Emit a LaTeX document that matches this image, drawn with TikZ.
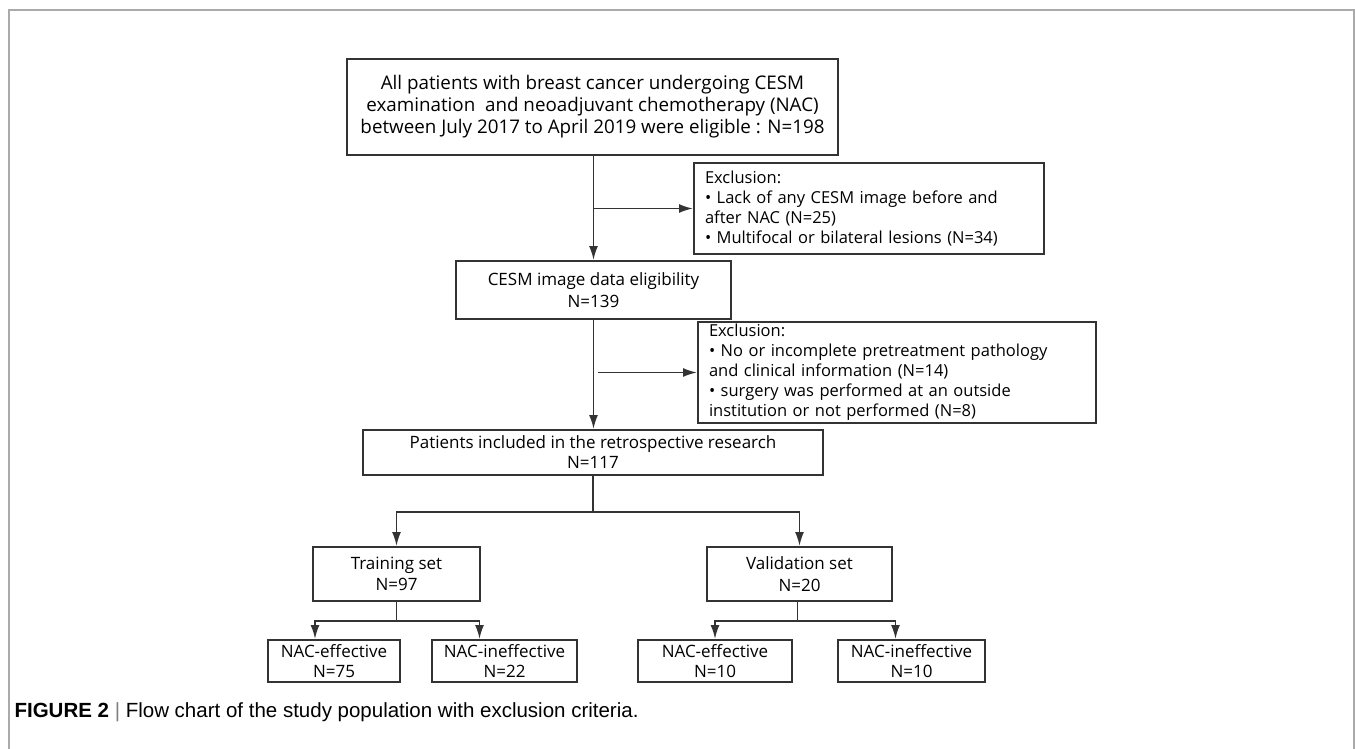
\documentclass[tikz,border=0pt]{standalone}
\usepackage{fontspec}
\setmainfont{Open Sans}
\newfontfamily\capfont{Liberation Sans}
\usetikzlibrary{positioning, arrows.meta}
\definecolor{boxline}{HTML}{333333}
\definecolor{framegray}{HTML}{AAAAAA}
\tikzstyle{process} = [rectangle, draw=boxline, line width=2pt, text centered, align=center, inner sep=0pt, font=\fontsize{17}{21.5}\selectfont]
\tikzstyle{exclusion} = [rectangle, draw=boxline, line width=2pt, align=left, inner xsep=11pt, inner ysep=0pt, font=\fontsize{16.5}{20}\selectfont]
\tikzstyle{arrow} = [line width=1.8pt, draw=boxline, -{Latex[length=14pt,width=9pt]}]
\tikzstyle{line} = [line width=1.8pt, draw=boxline]

\begin{document}
\begin{tikzpicture}[x=1pt, y=-1pt]
    \useasboundingbox (0,0) rectangle (1355,748);
    \draw [framegray, line width=1.5pt] (9,760) -- (9,10) -- (1354,10) -- (1354,760);

    \node (all) [process, minimum width=491pt, minimum height=96pt, font=\fontsize{18.8}{22}\selectfont] at (592.5,107) {All patients with breast cancer undergoing CESM\\
    examination\ \ and neoadjuvant chemotherapy (NAC)\\
    between July 2017 to April 2019 were eligible : N=198};

    \node (excl1) [exclusion, text width=328pt, minimum height=91pt] at (869,208.5) {Exclusion:\\
    \textbullet\ Lack of any CESM image before and\\
    after NAC (N=25)\\
    \textbullet\ Multifocal or bilateral lesions (N=34)};

    \node (elig) [process, minimum width=275pt, minimum height=58pt] at (593.5,290) {CESM image data eligibility\\N=139};

    \node (excl2) [exclusion, text width=376pt, minimum height=101pt] at (897,372.5) {Exclusion:\\
    \textbullet\ No or incomplete pretreatment pathology\\
    and clinical information (N=14)\\
    \textbullet\ surgery was performed at an outside\\
    institution or not performed (N=8)};

    \node (incl) [process, minimum width=460pt, minimum height=45pt, font=\fontsize{17}{20}\selectfont] at (593,452.5) {Patients included in the retrospective research\\N=117};

    \node (train) [process, minimum width=167pt, minimum height=54pt] at (396.5,574) {Training set\\N=97};
    \node (valid) [process, minimum width=185pt, minimum height=54pt] at (799.5,574) {Validation set\\N=20};

    \node (eff1) [process, minimum width=132pt, minimum height=42pt, font=\fontsize{17}{20}\selectfont] at (334,661) {NAC-effective\\N=75};
    \node (ineff1) [process, minimum width=145pt, minimum height=42pt, font=\fontsize{17}{20}\selectfont] at (504.5,661) {NAC-ineffective\\N=22};
    \node (eff2) [process, minimum width=154pt, minimum height=42pt, font=\fontsize{17}{20}\selectfont] at (715,661) {NAC-effective\\N=10};
    \node (ineff2) [process, minimum width=147pt, minimum height=42pt, font=\fontsize{17}{20}\selectfont] at (911.5,661) {NAC-ineffective\\N=10};

    \draw [arrow] (all.south -| elig.north) -- (elig.north);
    \draw [arrow] (elig.north |- excl1.west) -- (excl1.west);
    \draw [arrow] (elig.south) -- (elig.south |- incl.north);
    \draw [arrow] ([xshift=4pt]elig.south |- excl2.west) -- (excl2.west);

    \draw [line] (incl.south) -- ++(0,36) coordinate (split1);
    \draw [arrow] (split1) -| (train.north);
    \draw [arrow] (split1) -| (valid.north);

    \draw [line] (train.south) -- ++(0,19) coordinate (split2);
    \draw [arrow] (split2) -| ([xshift=-19pt]eff1.north);
    \draw [arrow] (split2) -| ([xshift=-25pt]ineff1.north);

    \draw [line] ([xshift=-2pt]valid.south) -- ++(0,19) coordinate (split3);
    \draw [arrow] (split3) -| (eff2.north);
    \draw [arrow] (split3) -| ([xshift=-16pt]ineff2.north);

    \node (caption) [anchor=west, font=\capfont\fontsize{20.5}{22}\selectfont] at (11,712) {\textbf{FIGURE 2} {\color{gray}|} Flow chart of the study population with exclusion criteria.};
\end{tikzpicture}
\end{document}
